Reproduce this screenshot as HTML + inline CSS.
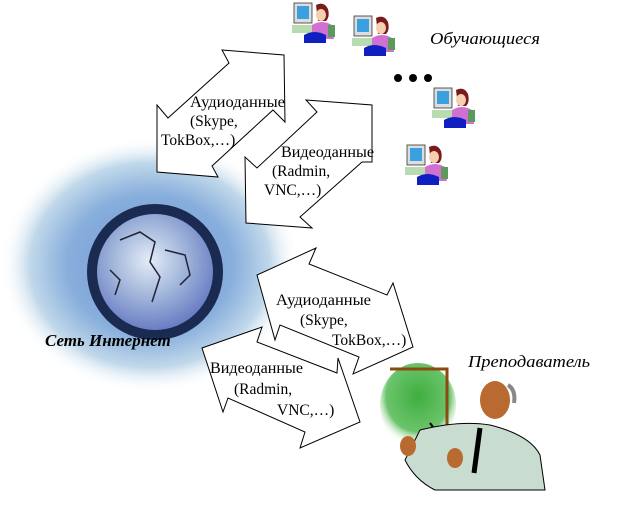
<!DOCTYPE html>
<html><head><meta charset="utf-8"><style>
html,body{margin:0;padding:0;background:#fff;}
svg{display:block}
text{font-family:"Liberation Serif",serif;}
</style></head><body>
<svg width="624" height="505" viewBox="0 0 624 505" xmlns="http://www.w3.org/2000/svg">
<defs>
<radialGradient id="cloud" cx="50%" cy="50%" r="50%">
<stop offset="0" stop-color="#6f98d4"/><stop offset="0.55" stop-color="#88aedc"/><stop offset="0.8" stop-color="#c0d8ea"/><stop offset="1" stop-color="#fff" stop-opacity="0"/>
</radialGradient>
<radialGradient id="globe" cx="45%" cy="40%" r="60%">
<stop offset="0" stop-color="#e4ecf6"/><stop offset="0.5" stop-color="#a4b8dc"/><stop offset="1" stop-color="#6a7ec4"/>
</radialGradient>
<radialGradient id="board" cx="50%" cy="40%" r="60%">
<stop offset="0" stop-color="#3fae3f"/><stop offset="0.7" stop-color="#6cc46c"/><stop offset="1" stop-color="#fff" stop-opacity="0"/>
</radialGradient>
<g id="st">
<rect x="0" y="0" width="18" height="20" fill="#ddd" stroke="#333" stroke-width="0.8"/>
<rect x="3" y="3" width="12" height="13" fill="#3aa0e0"/>
<rect x="-2" y="22" width="22" height="8" fill="#b8dcb0"/>
<path d="M22 2 q8 -4 12 4 q2 8 -2 12 l-8 0 z" fill="#7a1a1a"/>
<ellipse cx="27" cy="12" rx="5" ry="6" fill="#f4d0b0"/>
<path d="M18 22 q10 -6 20 0 l2 14 l-22 0 z" fill="#d070d0"/>
<rect x="34" y="22" width="7" height="12" fill="#5a9a5a"/>
<path d="M10 32 q10 -6 22 0 l0 8 l-22 0 z" fill="#1020c0"/>
</g>
</defs>
<ellipse cx="150" cy="265" rx="150" ry="128" fill="url(#cloud)"/>
<circle cx="155" cy="272" r="68" fill="#1a2a50"/>
<circle cx="155" cy="272" r="58" fill="url(#globe)"/>
<path d="M120 240 l20 -8 l15 10 l-5 20 l10 15 l-8 25 M165 250 l20 5 l5 20 l-10 10 M110 270 l10 10 l-5 15" stroke="#223" stroke-width="1.5" fill="none"/>
<text x="45" y="346" font-size="17" font-weight="bold" font-style="italic">Сеть Интернет</text>

<polygon points="222,50 284,55 285,122 273,110 212,166 218,177 157,172 157,105 168,118 229,63" fill="#fff" stroke="#000"/>
<polygon points="306,100 372,105 372,162 362,162 300,217 312,228 246,223 245,157 257,168 317,112" fill="#fff" stroke="#000"/>
<polygon points="316,248 309,264 387,295 393,283 413,347 353,374 359,357 280,325 275,340 257,275" fill="#fff" stroke="#000"/>
<polygon points="202,348 262,327 257,342 337,373 338,358 360,422 300,448 305,432 228,398 223,412" fill="#fff" stroke="#000"/>

<g font-size="15.5">
<text x="190" y="107" textLength="95" lengthAdjust="spacingAndGlyphs">Аудиоданные</text>
<text x="190" y="126">(Skype,</text>
<text x="161" y="145">TokBox,…)</text>
<text x="281" y="157" textLength="93" lengthAdjust="spacingAndGlyphs">Видеоданные</text>
<text x="272" y="176">(Radmin,</text>
<text x="264" y="195">VNC,…)</text>
<text x="276" y="305" textLength="95" lengthAdjust="spacingAndGlyphs">Аудиоданные</text>
<text x="300" y="325">(Skype,</text>
<text x="332" y="345">TokBox,…)</text>
<text x="210" y="373" textLength="93" lengthAdjust="spacingAndGlyphs">Видеоданные</text>
<text x="234" y="394">(Radmin,</text>
<text x="277" y="415">VNC,…)</text>
</g>

<use href="#st" x="294" y="3"/>
<use href="#st" x="354" y="16"/>
<use href="#st" x="434" y="88"/>
<use href="#st" x="407" y="145"/>
<circle cx="398" cy="78" r="4" fill="#000"/><circle cx="413" cy="78" r="4" fill="#000"/><circle cx="428" cy="78" r="4" fill="#000"/>
<text x="430" y="44" font-size="17" font-style="italic" textLength="110" lengthAdjust="spacingAndGlyphs">Обучающиеся</text>
<text x="468" y="367" font-size="17" font-style="italic" textLength="122" lengthAdjust="spacingAndGlyphs">Преподаватель</text>

<ellipse cx="418" cy="405" rx="38" ry="42" fill="url(#board)"/>
<path d="M390 369 L447 369 L447 425" stroke="#8a4a10" stroke-width="3" fill="none"/>
<path d="M430 423 L450 450" stroke="#000" stroke-width="2"/>
<path d="M420 430 q40 -10 70 -5 q40 10 50 30 l5 35 l-110 0 q-20 -10 -30 -30 z" fill="#c8dcd0" stroke="#000"/>
<ellipse cx="495" cy="400" rx="15" ry="19" fill="#b86a30"/>
<path d="M508 385 q8 5 6 18" stroke="#888" stroke-width="4" fill="none"/>
<path d="M480 428 l-6 45" stroke="#000" stroke-width="5"/>
<ellipse cx="408" cy="446" rx="8" ry="10" fill="#b86a30"/>
<ellipse cx="455" cy="458" rx="8" ry="10" fill="#b86a30"/>
</svg>
</body></html>
